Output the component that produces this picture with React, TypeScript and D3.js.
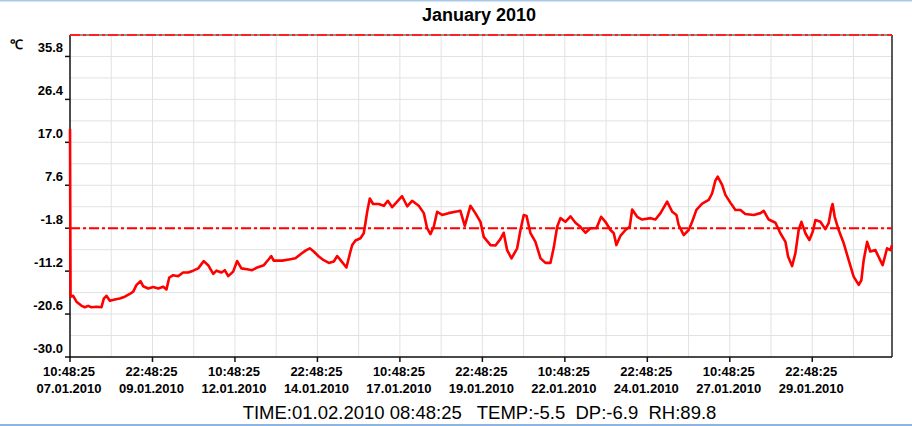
import React from 'react';
import * as d3 from 'd3';

const START = new Date(2010, 0, 7, 10, 48, 25);

const hoursOffset = [
  0, 0.4, 2.3, 4.7, 8.4, 10.8, 13.2, 15.6, 19.3, 22.9,
  24.6, 26.5, 29.0, 32.6, 36.2, 39.9, 43.5, 46.0, 48.4, 51.3,
  53.2, 56.9, 60.5, 64.2, 67.8, 70.2, 72.2, 75.1, 78.7, 82.3,
  86.0, 89.6, 93.3, 97.3, 100.5, 104.2, 106.6, 110.2, 112.6, 115.1,
  118.7, 121.6, 124.7, 128.9, 132.5, 136.2, 141.0, 144.6, 146.4, 148.2,
  154.4, 160.4, 164.0, 167.7, 171.3, 174.4, 177.3, 181.0, 184.6, 188.3,
  191.9, 194.4, 196.8, 201.1, 204.0, 205.3, 207.7, 211.3, 213.7, 214.9,
  216.2, 218.1, 220.5, 224.6, 228.3, 231.2, 234.4, 238.0, 241.6, 245.3,
  248.9, 253.7, 257.4, 259.8, 262.2, 264.6, 267.1, 270.7, 275.3, 280.4,
  284.0, 287.2, 291.3, 294.9, 298.6, 301.0, 305.9, 309.5, 313.1, 315.5,
  318.0, 321.2, 325.3, 327.7, 330.1, 332.1, 335.0, 338.6, 342.3, 345.9,
  349.5, 351.9, 354.4, 356.8, 360.4, 364.1, 367.7, 371.3, 375.0, 378.6,
  383.0, 386.4, 389.5, 393.2, 395.6, 397.5, 400.4, 404.1, 407.2, 409.0,
  412.6, 416.2, 422.3, 425.9, 429.6, 434.4, 438.1, 441.2, 442.8, 446.5,
  450.1, 452.6, 455.7, 459.9, 464.7, 467.1, 469.5, 471.2, 474.4, 476.8,
  480.4, 484.1, 487.7, 491.3, 497.4, 502.3, 504.7, 508.3, 513.2, 516.8,
  520.5, 522.4, 525.3, 527.7, 530.1, 532.1, 535.0, 537.9, 540.3, 542.3,
  545.9, 549.5, 551.9, 553.9, 554.8, 556.3, 559.2, 562.9, 566.5, 570.1,
  573.8, 575.7, 577.4, 579.9, 582.2, 585.9, 588.8, 591.2, 594.4, 596.8,
  598.0,
];

const temps = [
  19.9, -16.8, -16.6, -17.9, -18.8, -19.1, -18.8, -19.1, -19.0, -19.1,
  -17.2, -16.6, -17.7, -17.4, -17.2, -16.8, -16.2, -15.7, -14.2, -13.4,
  -14.5, -15.0, -14.7, -15.0, -14.6, -15.2, -12.6, -12.1, -12.3, -11.5,
  -11.5, -11.1, -10.6, -9.0, -9.9, -11.8, -11.1, -11.5, -11.0, -12.3,
  -11.3, -9.0, -10.6, -10.8, -11.0, -10.4, -9.9, -8.6, -7.9, -8.9,
  -8.9, -8.6, -8.4, -7.5, -6.7, -6.2, -6.9, -8.0, -8.8, -9.4,
  -9.1, -7.9, -8.8, -10.4, -6.9, -5.5, -4.5, -4.0, -2.9, -0.7,
  1.8, 4.7, 3.5, 3.5, 3.1, 4.2, 2.8, 4.0, 5.2, 3.0,
  4.2, 3.1, 1.5, -1.8, -3.1, -1.5, 1.8, 1.1, 1.5, 1.8,
  2.0, -1.3, 3.1, 1.5, -0.4, -3.7, -5.5, -5.6, -4.2, -2.8,
  -6.6, -8.4, -6.2, -2.2, 1.1, 0.9, -2.9, -4.8, -8.4, -9.4,
  -9.4, -6.1, -1.5, 0.4, -0.4, 0.8, -0.6, -1.5, -2.8, -1.8,
  -1.8, 0.7, -0.4, -2.2, -2.9, -5.5, -3.5, -2.2, -1.5, 2.3,
  0.7, 0.1, 0.4, 0.1, 1.5, 4.0, 1.8, 1.1, -1.1, -3.3,
  -2.2, -0.4, 2.2, 3.6, 4.4, 5.8, 8.6, 9.5, 7.7, 5.5,
  3.8, 2.2, 2.2, 1.3, 1.1, 1.5, 2.0, 0.1, -0.6, -2.9,
  -4.8, -8.0, -10.1, -7.3, -2.2, -0.4, -2.9, -4.4, -2.6, 0.0,
  -0.4, -2.0, -0.7, 2.6, 3.5, 0.7, -2.2, -5.1, -8.8, -12.4,
  -14.2, -13.2, -8.8, -4.8, -6.9, -6.6, -8.4, -9.9, -6.2, -6.6,
  -5.5,
];

const yTickValues = [-30.0, -20.6, -11.2, -1.8, 7.6, 17.0, 26.4, 35.8];
const yGridStep = 4.7;
const yMin = -30.0;
const yMax = 40.5;
const xTickHours = [0, 60, 120, 180, 240, 300, 360, 420, 480, 540];
const xGridStepHours = 30;
const thresholdValue = -1.8;

const titleText = 'January 2010';
const unitText = '℃';
const statusText = 'TIME:01.02.2010 08:48:25   TEMP:-5.5  DP:-6.9  RH:89.8';

const FONT = '"Liberation Sans", Arial, Helvetica, sans-serif';

export default function App() {
  const W = 912;
  const H = 426;
  const L = 70;
  const R = 892;
  const T = 35;
  const B = 357;

  const toDate = (h: number) => new Date(START.getTime() + h * 3600 * 1000);
  const endH = hoursOffset[hoursOffset.length - 1];

  const x = d3.scaleTime().domain([START, toDate(endH)]).range([L, R]);
  const y = d3.scaleLinear().domain([yMin, yMax]).range([B, T]);

  const pts = hoursOffset.map((h, i) => ({ t: toDate(h), v: temps[i] }));
  const line = d3
    .line<{ t: Date; v: number }>()
    .x((d) => x(d.t))
    .y((d) => y(d.v));

  const yGrid = d3.range(0, Math.round((yMax - yMin) / yGridStep) + 1).map((i) => yMin + i * yGridStep);
  const xGrid = d3.range(xGridStepHours, endH, xGridStepHours);

  const fmtTime = d3.timeFormat('%H:%M:%S');
  const fmtDate = d3.timeFormat('%d.%m.%Y');

  const dash = '10,3,3,3';

  return (
    <svg
      width={W}
      height={H}
      style={{ position: 'absolute', left: 0, top: 0, background: '#fff' }}
      fontFamily={FONT}
    >
      <rect x={0} y={0} width={W} height={H} fill="#ffffff" />
      <rect x={0} y={0} width={W} height={1.5} fill="#a9c9ea" />
      <rect x={0} y={H - 2} width={W} height={2} fill="#8db6df" />

      <text x={479} y={21} textAnchor="middle" fontWeight="bold" fontSize={18} fill="#000">
        {titleText}
      </text>

      {/* grid */}
      {yGrid.map((v, i) => (
        <line key={'gy' + i} x1={L} x2={R} y1={y(v)} y2={y(v)} stroke="#e2e2e2" strokeWidth={1} />
      ))}
      {xGrid.map((h, i) => (
        <line key={'gx' + i} x1={x(toDate(h))} x2={x(toDate(h))} y1={T} y2={B} stroke="#e2e2e2" strokeWidth={1} />
      ))}

      {/* frame */}
      <line x1={L} x2={R} y1={T} y2={T} stroke="#333" strokeWidth={1} />
      <line x1={R} x2={R} y1={T} y2={B} stroke="#222" strokeWidth={1.5} />
      <line x1={L} x2={L} y1={T} y2={B + 1} stroke="#111" strokeWidth={1.5} />
      <line x1={L - 1} x2={R} y1={B} y2={B} stroke="#111" strokeWidth={1.5} />

      {/* limit lines */}
      <line x1={L} x2={R} y1={y(yMax)} y2={y(yMax)} stroke="#ff2020" strokeWidth={2} strokeDasharray={dash} />
      <line x1={L} x2={R} y1={y(thresholdValue)} y2={y(thresholdValue)} stroke="#ff0000" strokeWidth={2} strokeDasharray={dash} />

      {/* y axis */}
      {yTickValues.map((v, i) => (
        <g key={'yt' + i}>
          <line x1={L - 5} x2={L} y1={y(v)} y2={y(v)} stroke="#111" strokeWidth={1.5} />
          <text x={63} y={y(v) - 4} textAnchor="end" fontWeight="bold" fontSize={13} fill="#000">
            {v.toFixed(1)}
          </text>
        </g>
      ))}
      <text x={10} y={49} fontWeight="bold" fontSize={13} fill="#000">
        {unitText}
      </text>

      {/* x axis */}
      {xTickHours.map((h, i) => {
        const d = toDate(h);
        const px = x(d);
        return (
          <g key={'xt' + i}>
            <line x1={px} x2={px} y1={B} y2={B + 5} stroke="#111" strokeWidth={1.5} />
            <text x={px - 1} y={376} textAnchor="middle" fontWeight="bold" fontSize={13} fill="#000">
              {fmtTime(d)}
            </text>
            <text x={px - 1} y={393} textAnchor="middle" fontWeight="bold" fontSize={13} fill="#000">
              {fmtDate(d)}
            </text>
          </g>
        );
      })}

      {/* data */}
      <path d={line(pts) || ''} fill="none" stroke="#ff0000" strokeWidth={2.6} strokeLinejoin="round" />

      <text x={479.5} y={419} textAnchor="middle" fontSize={18.5} fill="#000" style={{ whiteSpace: 'pre' }}>
        {statusText}
      </text>
    </svg>
  );
}
